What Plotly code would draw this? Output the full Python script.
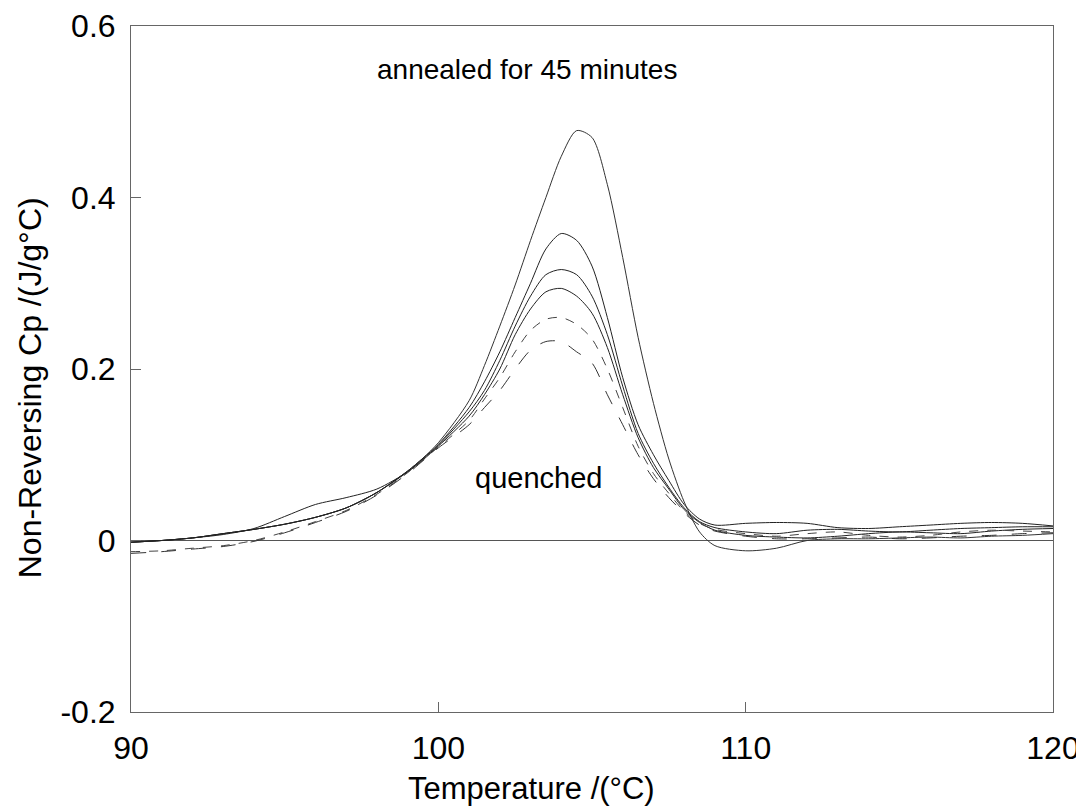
import plotly.graph_objects as go

# Temperature grid (°C)
temperature = [90, 91, 92, 93, 94, 95, 96, 97, 98, 99, 99.5, 100, 101, 101.5, 102, 102.5,
               103, 103.5, 104, 104.5, 105, 105.5, 106, 106.5, 107, 107.5, 108, 108.5,
               109, 110, 111, 112, 113, 114, 115, 116, 117, 118, 119, 120]

# Non-reversing Cp curves (J/g°C)
curve_a = [-0.002, 0.0, 0.003, 0.008, 0.013, 0.019, 0.027, 0.038, 0.056, 0.081, 0.096, 0.114, 0.163, 0.204, 0.25, 0.298,
           0.35, 0.40, 0.448, 0.478, 0.47, 0.415, 0.33, 0.237, 0.16, 0.095, 0.045, 0.01,
           -0.006, -0.012, -0.009, 0.0, 0.002, 0.002, 0.003, 0.004, 0.003, 0.005, 0.006, 0.008]
curve_b = [-0.002, 0.0, 0.003, 0.008, 0.013, 0.019, 0.027, 0.038, 0.056, 0.081, 0.096, 0.112, 0.155, 0.185, 0.22, 0.26,
           0.30, 0.34, 0.358, 0.35, 0.32, 0.26, 0.19, 0.135, 0.10, 0.07, 0.042, 0.025,
           0.018, 0.02, 0.021, 0.02, 0.015, 0.014, 0.016, 0.018, 0.02, 0.021, 0.02, 0.017]
curve_c = [-0.002, 0.0, 0.003, 0.008, 0.013, 0.019, 0.027, 0.038, 0.056, 0.08, 0.095, 0.111, 0.15, 0.175, 0.21, 0.25,
           0.285, 0.31, 0.316, 0.31, 0.285, 0.24, 0.18, 0.125, 0.09, 0.062, 0.038, 0.022,
           0.015, 0.01, 0.008, 0.012, 0.013, 0.011, 0.01, 0.012, 0.014, 0.015, 0.016, 0.016]
curve_d = [-0.002, 0.0, 0.003, 0.007, 0.014, 0.028, 0.042, 0.05, 0.06, 0.08, 0.094, 0.11, 0.145, 0.17, 0.20, 0.24,
           0.27, 0.29, 0.294, 0.285, 0.265, 0.225, 0.17, 0.12, 0.085, 0.06, 0.036, 0.021,
           0.012, 0.006, 0.004, 0.003, 0.005, 0.008, 0.01, 0.009, 0.008, 0.011, 0.013, 0.014]
curve_e = [-0.013, -0.012, -0.009, -0.006, 0.0, 0.01, 0.022, 0.035, 0.054, 0.079, 0.094, 0.109, 0.14, 0.165, 0.19, 0.22,
           0.245, 0.258, 0.26, 0.252, 0.235, 0.20, 0.155, 0.11, 0.078, 0.055, 0.034, 0.02,
           0.013, 0.008, 0.005, 0.008, 0.01, 0.006, 0.004, 0.006, 0.01, 0.012, 0.011, 0.01]
curve_f = [-0.015, -0.013, -0.01, -0.007, -0.001, 0.009, 0.021, 0.034, 0.053, 0.078, 0.093, 0.108, 0.135, 0.155, 0.175, 0.20,
           0.222, 0.232, 0.232, 0.22, 0.207, 0.17, 0.135, 0.10, 0.072, 0.05, 0.032, 0.018,
           0.011, 0.005, 0.002, 0.002, 0.003, 0.004, 0.002, 0.003, 0.005, 0.006, 0.008, 0.009]

curves = [curve_a, curve_b, curve_c, curve_d, curve_e, curve_f]
dashes = ["solid", "solid", "solid", "solid", "dash", "longdash"]
colors = ["#333333", "#222222", "#222222", "#222222", "#444444", "#333333"]

x_ticks = [90, 100, 110, 120]
y_ticks = [-0.2, 0, 0.2, 0.4, 0.6]
y_tick_text = ["-0.2", "0", "0.2", "0.4", "0.6"]

fig = go.Figure()
for ys, d, c in zip(curves, dashes, colors):
    fig.add_trace(go.Scatter(x=temperature, y=ys, mode="lines",
                             line=dict(color=c, width=1, dash=d, shape="spline", smoothing=0.8),
                             showlegend=False, hoverinfo="skip"))

font_family = "Liberation Sans, Arial, sans-serif"
fig.update_layout(
    width=1084, height=811,
    paper_bgcolor="white", plot_bgcolor="white",
    margin=dict(l=123, r=39, t=18, b=107, autoexpand=False),
    font=dict(family=font_family, size=30, color="black"),
    xaxis=dict(range=[90, 120], tickvals=x_ticks, ticks="inside", ticklen=10,
               tickcolor="#666666", showline=True, mirror=True, linecolor="#666666",
               linewidth=1, showgrid=False, zeroline=False, automargin=False,
               ticklabelstandoff=8,
               tickfont=dict(size=32, family=font_family)),
    yaxis=dict(range=[-0.2, 0.6], tickvals=y_ticks, ticktext=y_tick_text, ticks="inside",
               ticklen=10, tickcolor="#666666", showline=True, mirror=True,
               linecolor="#666666", linewidth=1, showgrid=False, automargin=False,
               zeroline=True, zerolinecolor="#555555", zerolinewidth=1,
               ticklabelstandoff=8,
               tickfont=dict(size=32, family=font_family)),
)

fig.add_annotation(x=0.434, y=-0.112, xref="paper", yref="paper", text="Temperature /(°C)",
                   showarrow=False, font=dict(size=31, family=font_family), yanchor="middle")
fig.add_annotation(x=-0.1095, y=0.472, xref="paper", yref="paper", text="Non-Reversing Cp /(J/g°C)",
                   textangle=-90, showarrow=False, font=dict(size=32, family=font_family),
                   xanchor="center", yanchor="middle")
fig.add_annotation(x=102.9, y=0.549, text="annealed for 45 minutes", showarrow=False,
                   font=dict(size=28, family=font_family))
fig.add_annotation(x=103.25, y=0.073, text="quenched", showarrow=False,
                   font=dict(size=29, family=font_family))

fig.write_html("out.html")
